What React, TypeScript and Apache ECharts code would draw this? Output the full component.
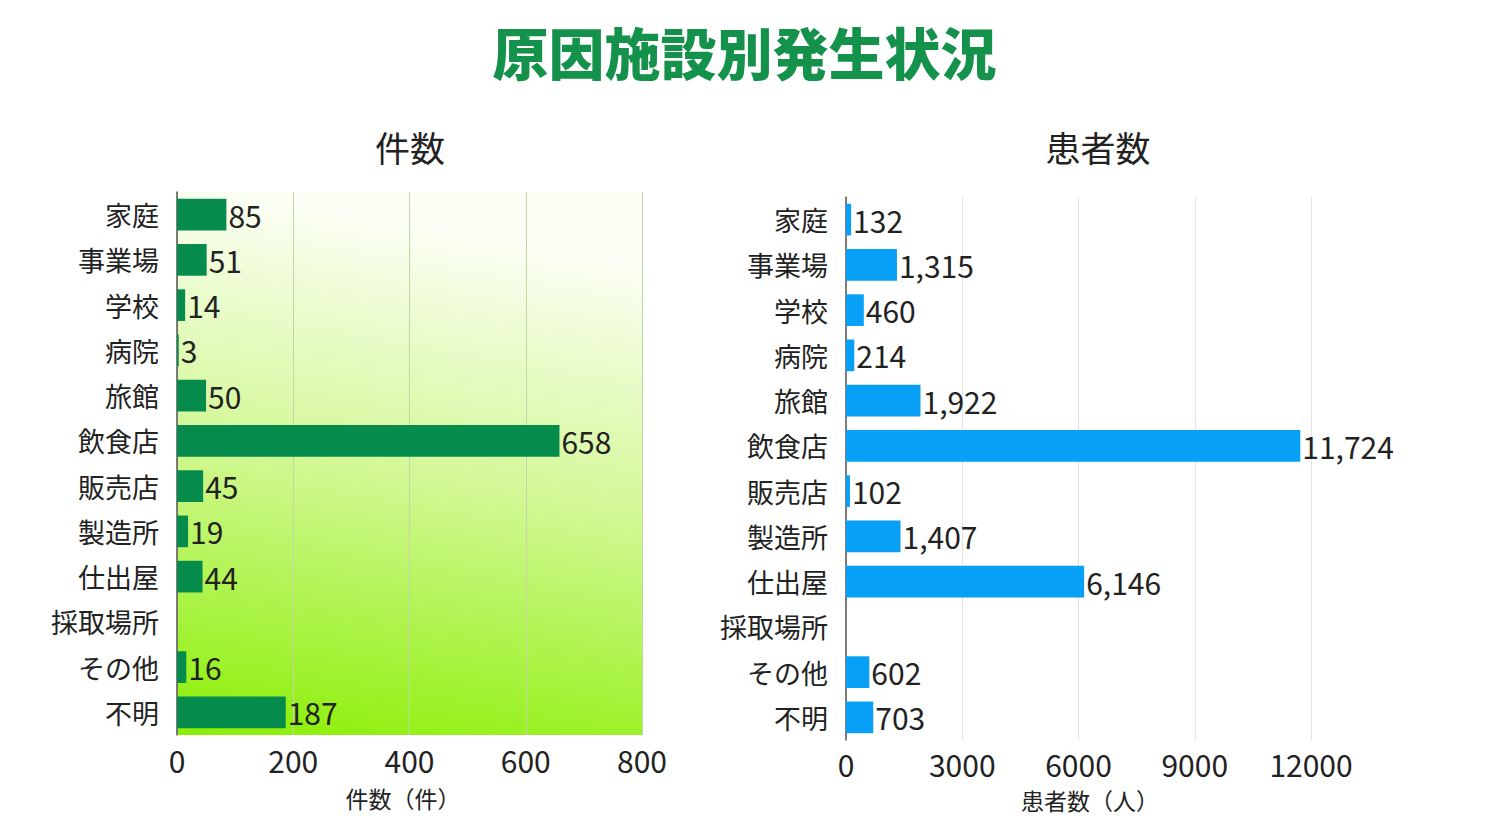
import React, { useEffect, useRef } from "react";
import * as echarts from "echarts";

const categories = ["家庭", "事業場", "学校", "病院", "旅館", "飲食店", "販売店", "製造所", "仕出屋", "採取場所", "その他", "不明"];
const caseCounts = [85, 51, 14, 3, 50, 658, 45, 19, 44, 0, 16, 187];
const patientCounts = [132, 1315, 460, 214, 1922, 11724, 102, 1407, 6146, 0, 602, 703];

const mainTitle = "原因施設別発生状況";
const leftTitle = "件数";
const rightTitle = "患者数";
const leftAxisName = "件数（件）";
const rightAxisName = "患者数（人）";

const FONT = "'Noto Sans CJK JP', 'Noto Sans', sans-serif";

const fmt = (v: number) => (v ? v.toLocaleString("en-US") : "");

export default function App() {
  const ref = useRef<HTMLDivElement>(null);

  useEffect(() => {
    if (!ref.current) return;
    const chart = echarts.init(ref.current, null, { renderer: "svg" });

    const catAxis = (gridIndex: number) => ({
      type: "category" as const,
      gridIndex,
      data: categories,
      inverse: true,
      axisLine: { show: true, lineStyle: { color: "#555", width: 1.5 } },
      axisTick: { show: false },
      axisLabel: { fontFamily: FONT, fontSize: 27, color: "#222", margin: 18 },
      splitLine: { show: false },
    });

    const valLabel = {
      show: true,
      position: "right" as const,
      distance: 2,
      fontFamily: FONT,
      fontSize: 30,
      color: "#222",
      formatter: (p: any) => fmt(p.value),
    };

    const tickLabel = { fontFamily: FONT, fontSize: 30, color: "#222", formatter: (v: number) => String(v) };
    const nameStyle = { fontFamily: FONT, fontSize: 23, fontWeight: "normal" as const, color: "#222" };
    const subStyle = { fontFamily: FONT, fontSize: 35, fontWeight: "normal" as const, color: "#222" };

    chart.setOption({
      animation: false,
      backgroundColor: "#ffffff",
      title: [
        {
          text: mainTitle,
          left: "center",
          top: 17,
          textStyle: { fontFamily: FONT, fontSize: 56, fontWeight: 900, color: "#14914b" },
        },
        { text: leftTitle, left: 405, textAlign: "center", top: 124, textStyle: subStyle },
        { text: rightTitle, left: 1093, textAlign: "center", top: 124, textStyle: subStyle },
        { text: leftAxisName, left: 403, textAlign: "center", top: 786, padding: 0, textStyle: nameStyle },
        { text: rightAxisName, left: 1090, textAlign: "center", top: 788, padding: 0, textStyle: nameStyle },
      ],
      grid: [
        {
          left: 177,
          top: 192,
          width: 465,
          height: 543,
          show: true,
          borderWidth: 0,
          backgroundColor: new echarts.graphic.LinearGradient(0.15, 0, 0, 1, [
            { offset: 0, color: "#fcfef6" },
            { offset: 0.45, color: "#d4f898" },
            { offset: 1, color: "#8aef04" },
          ]),
        },
        { left: 846, top: 197, width: 465, height: 543 },
      ],
      xAxis: [
        {
          type: "value",
          gridIndex: 0,
          min: 0,
          max: 800,
          interval: 200,
          axisLine: { show: false },
          axisTick: { show: false },
          axisLabel: { ...tickLabel, margin: 10 },
          splitLine: { show: true, lineStyle: { color: "#c3d6a8", width: 1 } },
        },
        {
          type: "value",
          gridIndex: 1,
          min: 0,
          max: 12000,
          interval: 3000,
          axisLine: { show: false },
          axisTick: { show: false },
          axisLabel: { ...tickLabel, margin: 9 },
          splitLine: { show: true, lineStyle: { color: "#e3e3e3", width: 1 } },
        },
      ],
      yAxis: [catAxis(0), catAxis(1)],
      series: [
        {
          type: "bar",
          xAxisIndex: 0,
          yAxisIndex: 0,
          data: caseCounts,
          barWidth: "70%",
          itemStyle: { color: "#058c4d" },
          label: valLabel,
        },
        {
          type: "bar",
          xAxisIndex: 1,
          yAxisIndex: 1,
          data: patientCounts,
          barWidth: "70%",
          itemStyle: { color: "#08a0f6" },
          label: valLabel,
        },
      ],
    });

    return () => chart.dispose();
  }, []);

  return (
    <div
      ref={ref}
      style={{ position: "fixed", left: 0, top: 0, width: 1489, height: 838 }}
    />
  );
}
